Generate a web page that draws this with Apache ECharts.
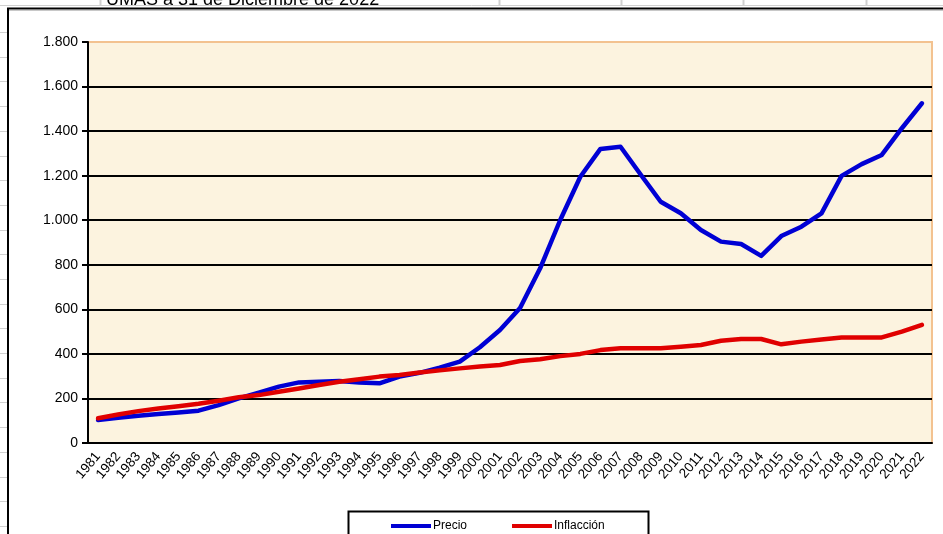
<!DOCTYPE html>
<html>
<head>
<meta charset="utf-8">
<script src="https://cdn.jsdelivr.net/npm/echarts@6/dist/echarts.min.js"></script>
<style>
  html, body { margin: 0; padding: 0; background: #ffffff; }
  #chart { width: 943px; height: 534px; }
</style>
</head>
<body>
<div id="chart"></div>
<script>
// Años de la serie
const years = [
  '1981','1982','1983','1984','1985','1986','1987','1988','1989','1990',
  '1991','1992','1993','1994','1995','1996','1997','1998','1999','2000',
  '2001','2002','2003','2004','2005','2006','2007','2008','2009','2010',
  '2011','2012','2013','2014','2015','2016','2017','2018','2019','2020',
  '2021','2022'
];

// Precio
const precio = [
  103, 113, 122, 130, 137, 145, 170, 200, 226, 253,
  272, 275, 278, 272, 268, 298, 315, 338, 365, 430,
  507, 606, 784, 1001, 1195, 1320, 1330, 1205, 1083, 1031,
  956, 904, 893, 840, 929, 971, 1031, 1199, 1252, 1293,
  1413, 1525
];

// Inflación acumulada
const inflacion = [
  111, 128, 143, 155, 165, 176, 190, 205, 215, 230,
  245, 260, 275, 286, 298, 305, 316, 326, 335, 343,
  350, 368, 376, 390, 400, 417, 425, 425, 425, 432,
  440, 459, 467, 467, 443, 455, 465, 474, 474, 474,
  500, 530
];

const seriesNames = ['Precio', 'Inflacción'];
const yTicks = { min: 0, max: 1800, interval: 200 };

const FONT = '"Liberation Sans", Arial, sans-serif';

function miles(v) {
  return String(v).replace(/\B(?=(\d{3})+(?!\d))/g, '.');
}

// Fondo tipo hoja de cálculo alrededor del gráfico
const sheet = [];
// celdas de la fila superior
sheet.push({ type: 'rect', shape: { x: 0, y: 0, width: 943, height: 6 }, style: { fill: '#ffffff' }, silent: true });
sheet.push({ type: 'line', shape: { x1: 0, y1: 5.5, x2: 943, y2: 5.5 }, style: { stroke: '#d0d0d0', lineWidth: 1 }, silent: true });
[100, 499, 621, 743, 866].forEach(function (x) {
  sheet.push({ type: 'line', shape: { x1: x + 0.5, y1: 0, x2: x + 0.5, y2: 6 }, style: { stroke: '#d0d0d0', lineWidth: 2 }, silent: true });
});
sheet.push({
  type: 'text', left: 106, top: -9,
  style: { text: 'UMAS a 31 de Diciembre de 2022', font: '18px ' + FONT, fill: '#000000' },
  silent: true
});
// filas a la izquierda
for (let y = 32; y < 534; y += 24.7) {
  sheet.push({ type: 'line', shape: { x1: 0, y1: Math.round(y) + 0.5, x2: 7, y2: Math.round(y) + 0.5 }, style: { stroke: '#d0d0d0', lineWidth: 1 }, silent: true });
}
// marco del gráfico
sheet.push({ type: 'line', shape: { x1: 7, y1: 10.5, x2: 943, y2: 10.5 }, style: { stroke: '#c8c8c8', lineWidth: 1 }, silent: true });
sheet.push({ type: 'line', shape: { x1: 7, y1: 8.5, x2: 943, y2: 8.5 }, style: { stroke: '#000000', lineWidth: 2 }, silent: true });
sheet.push({ type: 'line', shape: { x1: 8, y1: 8, x2: 8, y2: 534 }, style: { stroke: '#000000', lineWidth: 2 }, silent: true });
// recuadro de la leyenda
sheet.push({ type: 'rect', shape: { x: 348.5, y: 511.5, width: 300, height: 40 }, style: { fill: '#ffffff', stroke: '#000000', lineWidth: 2 }, silent: true, z: 0 });

const chart = echarts.init(document.getElementById('chart'), null, { renderer: 'canvas' });

chart.setOption({
  backgroundColor: '#ffffff',
  animation: false,
  textStyle: { fontFamily: FONT },
  graphic: { elements: sheet },
  grid: {
    left: 88, right: 11, top: 42, bottom: 91,
    show: true,
    backgroundColor: '#fcf3df',
    borderColor: '#f3c290',
    borderWidth: 2
  },
  legend: {
    left: 386, top: 515,
    itemWidth: 40, itemHeight: 4,
    itemGap: 45,
    icon: 'rect',
    textStyle: { fontSize: 12, color: '#000000', fontFamily: FONT, padding: [0, 0, 0, -3] },
    data: seriesNames,
    z: 10
  },
  xAxis: {
    type: 'category',
    data: years,
    boundaryGap: true,
    axisLine: { lineStyle: { color: '#000000', width: 2 } },
    axisTick: { interval: 0, length: 5, lineStyle: { color: '#000000', width: 2 } },
    axisLabel: {
      interval: 0, rotate: 50, fontSize: 13.5, color: '#000000', fontFamily: FONT, margin: 11
    },
    splitLine: { show: false }
  },
  yAxis: {
    type: 'value',
    min: yTicks.min, max: yTicks.max, interval: yTicks.interval,
    axisLine: { show: true, lineStyle: { color: '#000000', width: 2 } },
    axisTick: { show: true, length: 6, lineStyle: { color: '#000000', width: 2 } },
    axisLabel: {
      fontSize: 14, color: '#000000', fontFamily: FONT, margin: 10,
      formatter: miles
    },
    splitLine: { show: true, showMinLine: false, showMaxLine: false, lineStyle: { color: '#000000', width: 2 } }
  },
  series: [
    {
      name: seriesNames[0], type: 'line', data: precio,
      symbol: 'none', color: '#0000d4',
      lineStyle: { width: 4.5, color: '#0000d4', join: 'round', cap: 'round' },
      z: 3
    },
    {
      name: seriesNames[1], type: 'line', data: inflacion,
      symbol: 'none', color: '#e00000',
      lineStyle: { width: 4.5, color: '#e00000', join: 'round', cap: 'round' },
      z: 4
    }
  ]
});
</script>
</body>
</html>
